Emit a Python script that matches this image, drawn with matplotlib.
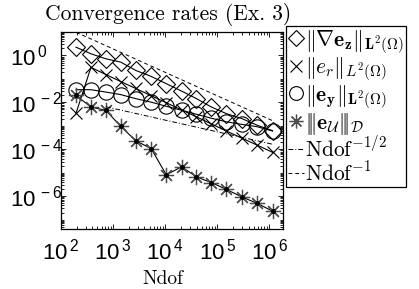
import numpy as np
import matplotlib.pyplot as plt
from matplotlib.ticker import LogLocator, NullFormatter

# data
ndof = [194, 375, 725, 1400, 2720, 5370, 10500, 20600, 39800, 77100,
        149000, 295000, 585000, 1146000]
err_grad_z = [2.25, 1.18, 0.72, 0.52, 0.23, 0.128, 0.0625, 0.0303, 0.0144,
              0.0063, 0.0033, 0.00204, 0.00105, 0.00062]
err_r = [3.4e-3, 0.309, 0.154, 0.077, 0.039, 0.0193, 0.0096, 0.0048, 0.0024,
         0.0012, 6.0e-4, 3.0e-4, 1.49e-4, 7.4e-5]
err_y = [0.0347, 0.0347, 0.0275, 0.0214, 0.0144, 0.0102, 0.0068, 0.0046,
         0.0031, 0.0021, 0.00148, 0.00115, 0.00091, 0.0006]
err_u = [1.99e-2, 6.3e-3, 4.57e-3, 9.5e-4, 2.3e-4, 1.07e-4, 8.1e-6, 1.8e-5,
         6.6e-6, 3.8e-6, 1.94e-6, 9.3e-7, 4.9e-7, 2.3e-7]

# reference slopes
c_half = 0.175
c_one = 1900.0

labels = [r'$\|\nabla\mathbf{e_z}\|_{\mathbf{L}^2(\Omega)}$',
          r'$\|e_r\|_{L^2(\Omega)}$',
          r'$\|\mathbf{e_y}\|_{\mathbf{L}^2(\Omega)}$',
          r'$|\!|\!|\mathbf{e}_{\mathcal{U}}|\!|\!|_{\mathcal{D}}$',
          r'$\mathrm{Ndof}^{-1/2}$',
          r'$\mathrm{Ndof}^{-1}$']

xticks = [1e2, 1e3, 1e4, 1e5, 1e6]
yticks = [1e0, 1e-2, 1e-4, 1e-6]

W, H = 419, 289
fig = plt.figure(figsize=(W / 100, H / 100), dpi=100)
ax = fig.add_axes([61 / W, 1 - 229 / H, 222 / W, 197 / H])

x = np.array(ndof, dtype=float)
lw = 0.8
ax.plot(x, err_grad_z, '-', color='k', lw=lw, marker='D', ms=9,
        mfc='none', mec='k', mew=0.8, label=labels[0])
ax.plot(x, err_r, '-', color='k', lw=lw, marker='x', ms=9,
        mec='k', mew=0.8, label=labels[1])
ax.plot(x, err_y, '-', color='k', lw=lw, marker='o', ms=11,
        mfc='none', mec='k', mew=0.8, label=labels[2])
ax.plot(x, err_u, '-', color='k', lw=lw, marker=(8, 2, 0), ms=11,
        mec='0.3', mew=0.9, label=labels[3])
ax.plot(x, err_u, linestyle='none', marker='o', ms=2.5, mfc='k', mec='k')

xh = x[2:]
ax.plot(xh, c_half * xh ** -0.5, color='k', lw=0.7, ls=(0, (5, 2, 1, 2)),
        label=labels[4])
ax.plot(x, c_one / x, color='k', lw=0.7, ls=(0, (4, 3)), label=labels[5])

ax.set_xscale('log')
ax.set_yscale('log')
ax.set_xlim(1e2, 10 ** 6.26)
ax.set_ylim(10 ** -7.4, 10 ** 1.0)

ax.set_xticks(xticks)
ax.set_xticklabels([r'$\mathregular{10^{\,%d}}$' % round(np.log10(v)) for v in xticks],
                   fontsize=16, fontfamily='Liberation Sans')
ax.set_yticks(yticks)
# "10" sits at the same place for every label, exponent sticks out to the right
ax.set_yticklabels([r'$\mathregular{10^{\,%d}}$' % round(np.log10(v)) for v in yticks],
                   fontsize=16, fontfamily='Liberation Sans', ha='left')
ax.xaxis.set_minor_locator(LogLocator(base=10, subs=np.arange(2, 10), numticks=100))
ax.yaxis.set_minor_locator(LogLocator(base=10, subs=np.arange(1, 10), numticks=100))
ax.xaxis.set_minor_formatter(NullFormatter())
ax.yaxis.set_minor_formatter(NullFormatter())
ax.tick_params(which='both', direction='in', top=True, right=True, width=0.6)
ax.tick_params(which='major', length=3.5)
ax.tick_params(which='minor', length=2)
ax.tick_params(axis='x', pad=7)
ax.tick_params(axis='y', pad=37)
for s in ax.spines.values():
    s.set_linewidth(0.9)

fig.text(168 / W, 1 - 14 / H, 'Convergence rates (Ex. 3)', family='cmr10',
         fontsize=15.5, ha='center', va='center')
fig.text(163 / W, 1 - 279 / H, 'Ndof', family='cmr10', fontsize=14,
         ha='center', va='center')

leg = ax.legend(loc='upper left', bbox_to_anchor=(286 / W, 1 - 26 / H),
                bbox_transform=fig.transFigure, borderaxespad=0,
                fontsize=15.5, handlelength=0.75, handletextpad=0.05,
                labelspacing=0.0, borderpad=0.1, fancybox=False,
                framealpha=1, edgecolor='k', markerscale=0.9)
leg.get_frame().set_linewidth(0.9)
for t in leg.get_texts():
    t.set_math_fontfamily('cm')
for h in leg.legend_handles[:4]:
    h.set_linestyle('none')

fig.savefig('out.png', dpi=100)
